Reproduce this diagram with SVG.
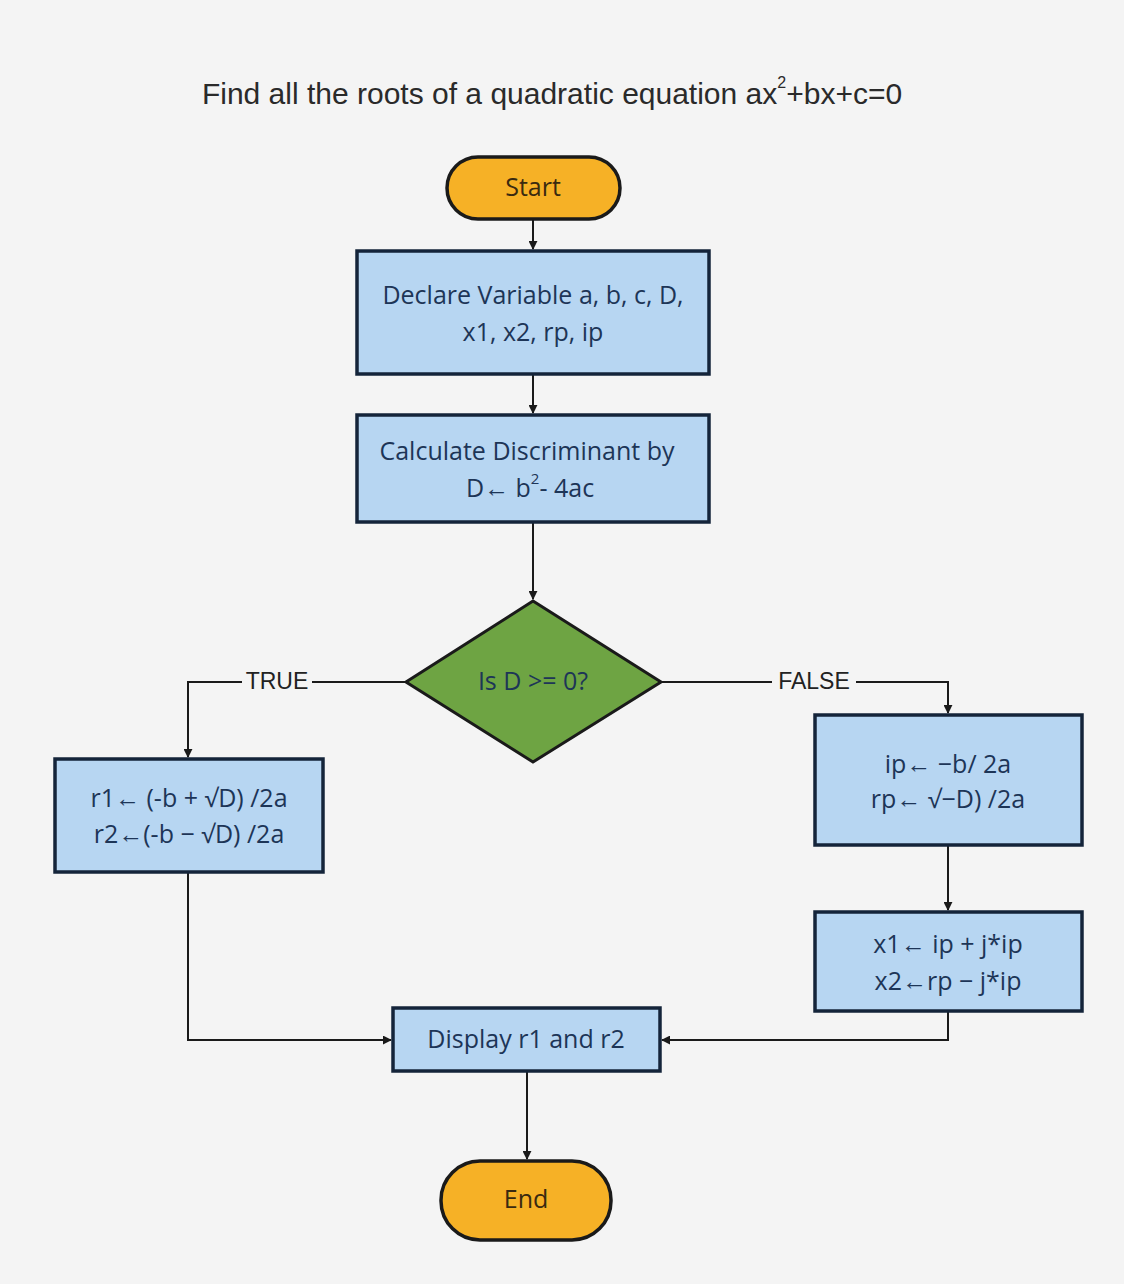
<svg xmlns="http://www.w3.org/2000/svg" width="1124" height="1284" viewBox="0 0 1124 1284">
<defs>
<marker id="ah" viewBox="0 0 10 10" refX="9" refY="5" markerWidth="9" markerHeight="9" orient="auto" markerUnits="userSpaceOnUse">
<path d="M0,0 L10,5 L0,10 z" fill="#1a1a1a"/>
</marker>
<style>
.box{fill:#b7d6f2;stroke:#14243a;stroke-width:3.5}
.term{fill:#f6b126;stroke:#1a1a1a;stroke-width:3.5}
.dec{fill:#6ea443;stroke:#1a1a1a;stroke-width:3}
.t{font-family:"Open Sans","Liberation Sans",sans-serif;font-size:25px;fill:#1d3557;text-anchor:middle;dominant-baseline:middle}
.tt{font-family:"Open Sans","Liberation Sans",sans-serif;font-size:25px;fill:#3a2a10;text-anchor:middle;dominant-baseline:middle}
.lbl{font-family:"Liberation Sans",Arial,sans-serif;font-size:23px;fill:#222;text-anchor:middle;dominant-baseline:middle}
.c{fill:none;stroke:#1a1a1a;stroke-width:2}
</style>
</defs>
<rect width="1124" height="1284" fill="#f4f4f4"/>
<text x="552" y="96" font-family="Liberation Sans, Arial, sans-serif" font-size="30" fill="#2a2a2a" text-anchor="middle" dominant-baseline="middle">Find all the roots of a quadratic equation ax<tspan dy="-12" font-size="16">2</tspan><tspan dy="12">+bx+c=0</tspan></text>

<g id="connectors">
<path class="c" d="M533,220 V249" marker-end="url(#ah)"/>
<path class="c" d="M533,375 V413" marker-end="url(#ah)"/>
<path class="c" d="M533,523 V599" marker-end="url(#ah)"/>
<path class="c" d="M406,682 H188 V757" marker-end="url(#ah)"/>
<path class="c" d="M661,682 H948 V713" marker-end="url(#ah)"/>
<path class="c" d="M948,846 V910" marker-end="url(#ah)"/>
<path class="c" d="M188,873 V1040 H391" marker-end="url(#ah)"/>
<path class="c" d="M948,1012 V1040 H662" marker-end="url(#ah)"/>
<path class="c" d="M527,1072 V1159" marker-end="url(#ah)"/>
<rect x="242" y="670" width="70" height="24" fill="#f4f4f4"/>
<text class="lbl" x="277" y="683">TRUE</text>
<rect x="772" y="670" width="84" height="24" fill="#f4f4f4"/>
<text class="lbl" x="814" y="683">FALSE</text>
</g>

<g id="start">
<rect class="term" x="447" y="157" width="173" height="62" rx="31"/>
<text class="tt" x="533" y="189">Start</text>
</g>
<g id="declare">
<rect class="box" x="357" y="251" width="352" height="123"/>
<text class="t" x="533" y="297">Declare Variable a, b, c, D,</text>
<text class="t" x="533" y="334">x1, x2, rp, ip</text>
</g>
<g id="calculate">
<rect class="box" x="357" y="415" width="352" height="107"/>
<text class="t" x="527" y="453">Calculate Discriminant by</text>
<text class="t" x="530" y="490">D← b<tspan dy="-10" font-size="15">2</tspan><tspan dy="10">- 4ac</tspan></text>
</g>
<g id="decision">
<polygon class="dec" points="533,601 661,682 533,762 406,682"/>
<text class="t" x="533" y="683" fill="#1d2a10">Is D &gt;= 0?</text>
</g>
<g id="real-roots">
<rect class="box" x="55" y="759" width="268" height="113"/>
<text class="t" x="189" y="800">r1← (-b + √D) /2a</text>
<text class="t" x="189" y="836">r2←(-b − √D) /2a</text>
</g>
<g id="complex-parts">
<rect class="box" x="815" y="715" width="267" height="130"/>
<text class="t" x="948" y="766">ip← −b/ 2a</text>
<text class="t" x="948" y="801">rp← √−D) /2a</text>
</g>
<g id="complex-roots">
<rect class="box" x="815" y="912" width="267" height="99"/>
<text class="t" x="948" y="946">x1← ip + j*ip</text>
<text class="t" x="948" y="983">x2←rp − j*ip</text>
</g>
<g id="display">
<rect class="box" x="393" y="1008" width="267" height="63"/>
<text class="t" x="526" y="1041">Display r1 and r2</text>
</g>
<g id="end">
<rect class="term" x="441" y="1161" width="170" height="79" rx="39"/>
<text class="tt" x="526" y="1201">End</text>
</g>
</svg>
